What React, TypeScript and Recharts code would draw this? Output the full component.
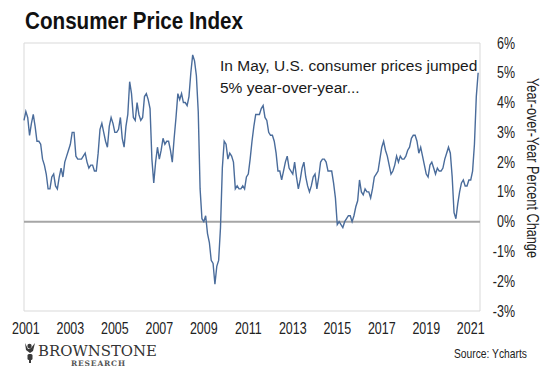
import React from 'react';
import { LineChart, Line, XAxis, YAxis, ReferenceLine, ReferenceArea } from 'recharts';

// CPI-U, year-over-year % change, monthly from Dec 2000 through May 2021
const startYear = 2000;
const startMonth = 11; // December (0-based)
const cpiYoY = [
  3.4,
  3.7, 3.5, 2.9, 3.3, 3.6, 3.2, 2.7, 2.7, 2.6, 2.1, 1.9, 1.6, // 2001
  1.1, 1.1, 1.5, 1.6, 1.2, 1.1, 1.5, 1.8, 1.5, 2.0, 2.2, 2.4, // 2002
  2.6, 3.0, 3.0, 2.2, 2.1, 2.1, 2.1, 2.2, 2.3, 2.0, 1.8, 1.9, // 2003
  1.9, 1.7, 1.7, 2.3, 3.1, 3.3, 3.0, 2.7, 2.5, 3.2, 3.5, 3.3, // 2004
  3.0, 3.0, 3.1, 3.5, 2.8, 2.5, 3.2, 3.6, 4.7, 4.3, 3.5, 3.4, // 2005
  4.0, 3.6, 3.4, 3.5, 4.2, 4.3, 4.1, 3.8, 2.1, 1.3, 2.0, 2.5, // 2006
  2.1, 2.4, 2.8, 2.6, 2.7, 2.7, 2.4, 2.0, 2.8, 3.5, 4.3, 4.1, // 2007
  4.3, 4.0, 4.0, 3.9, 4.2, 5.0, 5.6, 5.4, 4.9, 3.7, 1.1, 0.1, // 2008
  0.0, 0.2, -0.4, -0.7, -1.3, -1.4, -2.1, -1.5, -1.3, -0.2, 1.8, 2.7, // 2009
  2.6, 2.1, 2.3, 2.2, 2.0, 1.1, 1.2, 1.1, 1.1, 1.2, 1.1, 1.5, // 2010
  1.6, 2.1, 2.7, 3.2, 3.6, 3.6, 3.6, 3.8, 3.9, 3.5, 3.4, 3.0, // 2011
  2.9, 2.9, 2.7, 2.3, 1.7, 1.7, 1.4, 1.7, 2.0, 2.2, 1.8, 1.7, // 2012
  1.6, 2.0, 1.5, 1.1, 1.4, 1.8, 2.0, 1.5, 1.2, 1.0, 1.2, 1.5, // 2013
  1.6, 1.1, 1.5, 2.0, 2.1, 2.1, 2.0, 1.7, 1.7, 1.7, 1.3, 0.8, // 2014
  -0.1, 0.0, -0.1, -0.2, 0.0, 0.1, 0.2, 0.2, 0.0, 0.2, 0.5, 0.7, // 2015
  1.4, 1.0, 0.9, 1.1, 1.0, 1.0, 0.8, 1.1, 1.5, 1.6, 1.7, 2.1, // 2016
  2.5, 2.7, 2.4, 2.2, 1.9, 1.6, 1.7, 1.9, 2.2, 2.0, 2.2, 2.1, // 2017
  2.1, 2.2, 2.4, 2.5, 2.8, 2.9, 2.9, 2.7, 2.3, 2.5, 2.2, 1.9, // 2018
  1.6, 1.5, 1.9, 2.0, 1.8, 1.6, 1.8, 1.7, 1.7, 1.8, 2.1, 2.3, // 2019
  2.5, 2.3, 1.5, 0.3, 0.1, 0.6, 1.0, 1.3, 1.4, 1.2, 1.2, 1.4, // 2020
  1.4, 1.7, 2.6, 4.2, 5.0, // 2021
];

const yearLabels = [2001, 2003, 2005, 2007, 2009, 2011, 2013, 2015, 2017, 2019, 2021];
const percentTicks = [-3, -2, -1, 0, 1, 2, 3, 4, 5, 6];

const sans = "'Liberation Sans', Arial, sans-serif";
const serif = "'DejaVu Serif', 'Liberation Serif', serif";

// month index (from the first observation) of January of a year
const janIndex = (year: number) => (year - startYear) * 12 - startMonth;
const yearTicks = yearLabels.map(janIndex);

const data = cpiYoY.map((v, i) => ({ idx: i, value: v }));

// Arial Narrow is not available, so squeeze Liberation Sans horizontally
const YearTick = (props: any) => {
  const { x, y, payload } = props;
  const year = startYear + Math.floor((payload.value + startMonth) / 12);
  return (
    <g transform={`translate(${x},${y + 15})`}>
      <text transform="scale(0.78,1)" textAnchor="middle" fontFamily={sans} fontSize={16} fill="#222">
        {year}
      </text>
    </g>
  );
};

const PercentTick = (props: any) => {
  const { x, y, payload } = props;
  return (
    <g transform={`translate(${x + 27},${y + 5.5})`}>
      <text transform="scale(0.78,1)" textAnchor="end" fontFamily={sans} fontSize={16} fill="#222">
        {`${payload.value}%`}
      </text>
    </g>
  );
};

export default function App() {
  return (
    <div style={{ position: 'absolute', left: 0, top: 0, width: 560, height: 376, background: '#fff' }}>
      <LineChart width={560} height={376} data={data} margin={{ top: 43, right: 40, bottom: 35, left: 24 }}>
        <XAxis
          dataKey="idx"
          type="number"
          domain={[0, cpiYoY.length]}
          ticks={yearTicks}
          interval={0}
          axisLine={false}
          tickLine={false}
          height={30}
          tick={<YearTick />}
        />
        <YAxis
          orientation="right"
          domain={[-3, 6]}
          ticks={percentTicks}
          interval={0}
          axisLine={false}
          tickLine={false}
          width={40}
          tick={<PercentTick />}
        />
        <ReferenceArea x1={0} x2={cpiYoY.length} y1={-3} y2={6} fill="none" stroke="#d9d9d9" strokeWidth={1} />
        <ReferenceLine y={0} stroke="#a6a6a6" strokeWidth={2} />
        <Line
          dataKey="value"
          type="linear"
          stroke="#4a6c9b"
          strokeWidth={1.4}
          dot={false}
          isAnimationActive={false}
        />
      </LineChart>
      <svg width={560} height={376} style={{ position: 'absolute', left: 0, top: 0, pointerEvents: 'none' }}>
        <text x={25} y={28.5} fontFamily={sans} fontWeight={700} fontSize={24} textLength={218} lengthAdjust="spacingAndGlyphs" fill="#111">
          Consumer Price Index
        </text>
        <text fontFamily={sans} fontSize={15.5} fill="#1a1a1a">
          <tspan x={220} y={70.5}>In May, U.S. consumer prices jumped</tspan>
          <tspan x={220} y={92.5}>5% year-over-year...</tspan>
        </text>
        <text
          x={532}
          y={168}
          transform="rotate(90 532 168)"
          textAnchor="middle"
          dominantBaseline="central"
          fontFamily={sans}
          fontSize={16}
          textLength={180}
          lengthAdjust="spacingAndGlyphs"
          fill="#222"
        >
          Year-over-Year Percent Change
        </text>
        <g fill="#3a3a3a">
          <circle cx={29.5} cy={346} r={2.2} />
          <path d="M25 343 L28 349 L31 348 L35 343 L33 351 L30 353 L26 350 Z" />
          <rect x={27.5} y={354} width={5} height={6} rx={1.5} />
          <rect x={29} y={360} width={2} height={3} />
        </g>
        <text x={38} y={356} fontFamily={serif} fontSize={14} textLength={119} lengthAdjust="spacingAndGlyphs" fill="#333">
          BROWNSTONE
        </text>
        <text x={71} y={365.5} fontFamily={serif} fontWeight={700} fontSize={7.5} textLength={54} lengthAdjust="spacing" fill="#555">
          RESEARCH
        </text>
        <text x={454} y={358} fontFamily={sans} fontSize={13} textLength={73} lengthAdjust="spacingAndGlyphs" fill="#222">
          Source: Ycharts
        </text>
      </svg>
    </div>
  );
}
